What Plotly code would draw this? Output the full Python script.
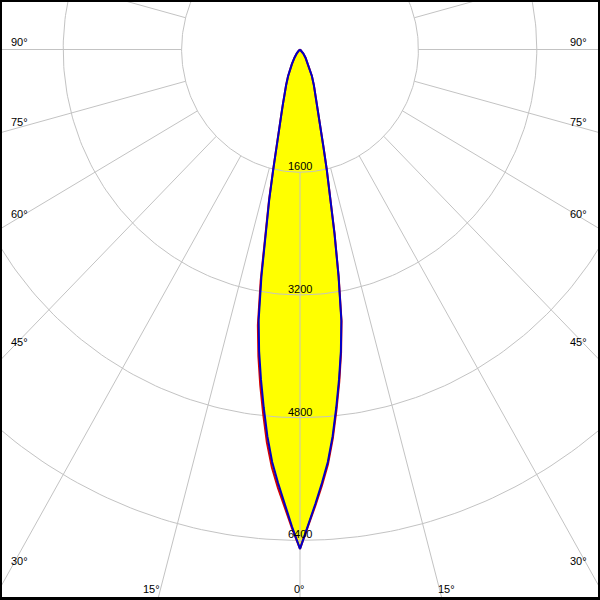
import numpy as np
import plotly.graph_objects as go

# ---- data ----
gamma_deg = [0, 1, 2, 3, 4, 5, 6, 7, 8, 9, 10, 11, 12, 13, 14, 15, 16, 17, 18,
             20, 22, 25, 30, 35, 40, 45, 50, 60, 70, 80, 90]
# C90-C270 plane (blue)
i_c90 = [6510, 6220, 5930, 5660, 5390, 5060, 4690, 4330, 3970, 3570, 3000, 2440,
         2000, 1610, 1310, 1110, 960, 840, 745, 620, 500, 380, 220, 130, 70, 35,
         15, 0, 0, 0, 0]
i_c270 = i_c90
# C0-C180 plane (red)
i_c0 = [6510, 6230, 5950, 5690, 5420, 5090, 4720, 4360, 3990, 3590, 3010, 2450,
        2000, 1610, 1310, 1110, 960, 840, 745, 620, 500, 380, 220, 130, 70, 35,
        15, 0, 0, 0, 0]
i_c180 = [6510, 6240, 5970, 5720, 5460, 5140, 4770, 4410, 4040, 3640, 3060, 2480,
          2020, 1620, 1320, 1110, 960, 840, 745, 620, 500, 380, 220, 130, 70, 35,
          15, 0, 0, 0, 0]

grid_values = [1600, 3200, 4800, 6400]
grid_labels = ["1600", "3200", "4800", "6400"]
spoke_angles = list(range(0, 360, 15))
side_labels = ["90°", "75°", "60°", "45°", "30°"]
bottom_labels = ["15°", "0°", "15°"]

# ---- layout constants (pixel geometry of the reference) ----
W, H = 600, 600
ML, MR, MT, MB = 2, 2, 2, 3
CX, CY = 300.0, 49.5     # pole position in pixels
KX, KY = 0.0740, 0.0767  # pixels per cd


def polar_xy(g_deg, vals, side):
    g = np.radians(np.asarray(g_deg, float))
    v = np.asarray(vals, float)
    return side * v * np.sin(g), -v * np.cos(g)


def curve(right_vals, left_vals):
    xr, yr = polar_xy(gamma_deg, right_vals, 1)
    xl, yl = polar_xy(gamma_deg, left_vals, -1)
    x = np.concatenate([xl[::-1], xr[1:]])
    y = np.concatenate([yl[::-1], yr[1:]])
    return x, y


fig = go.Figure()

# yellow fill
fx, fy = curve(i_c90, i_c180)
fig.add_trace(go.Scatter(x=fx, y=fy, mode="lines", fill="toself",
                         fillcolor="#ffff00", line=dict(width=0, color="#ffff00"),
                         hoverinfo="skip"))

grid_col = "#c3c3c3"
t = np.radians(np.arange(0, 361, 1))
for gv in grid_values:
    fig.add_trace(go.Scatter(x=gv * np.sin(t), y=-gv * np.cos(t), mode="lines",
                             line=dict(color=grid_col, width=1), hoverinfo="skip"))
for a in spoke_angles:
    ar = np.radians(a)
    fig.add_trace(go.Scatter(x=[grid_values[0] * np.sin(ar), 20000 * np.sin(ar)],
                             y=[-grid_values[0] * np.cos(ar), -20000 * np.cos(ar)],
                             mode="lines", line=dict(color=grid_col, width=1),
                             hoverinfo="skip"))

rx, ry = curve(i_c0, i_c180)
fig.add_trace(go.Scatter(x=rx, y=ry, mode="lines",
                         line=dict(color="#d40000", width=2), hoverinfo="skip"))
bx, by = curve(i_c90, i_c270)
fig.add_trace(go.Scatter(x=bx, y=by, mode="lines",
                         line=dict(color="#0000c8", width=2), hoverinfo="skip"))

font = dict(family="Liberation Sans, Arial, sans-serif", size=11, color="#000000")
ann = []
for gv, lab in zip(grid_values, grid_labels):
    ann.append(dict(x=0, y=-gv, xref="x", yref="y", text=lab, showarrow=False,
                    font=font, xanchor="center", yanchor="middle", yshift=6))


def px2paper(px, py):
    return (px - ML) / (W - ML - MR), (H - MB - py) / (H - MT - MB)


side_py = [42, 122, 214, 342, 561]
for lab, py in zip(side_labels, side_py):
    xl, yl = px2paper(9, py)
    ann.append(dict(x=xl, y=yl, xref="paper", yref="paper", text=lab,
                    showarrow=False, font=font, xanchor="left", yanchor="middle"))
    xr_, yr_ = px2paper(589, py)
    ann.append(dict(x=xr_, y=yr_, xref="paper", yref="paper", text=lab,
                    showarrow=False, font=font, xanchor="right", yanchor="middle"))
for lab, px in zip(bottom_labels, [151, 299.5, 447]):
    xb, yb = px2paper(px, 588.5)
    ann.append(dict(x=xb, y=yb, xref="paper", yref="paper", text=lab,
                    showarrow=False, font=font, xanchor="center", yanchor="middle"))

x0 = (ML - CX) / KX
x1 = (W - MR - CX) / KX
y1 = (CY - MT) / KY
y0 = (CY - (H - MB)) / KY

fig.update_layout(
    width=W, height=H,
    margin=dict(l=ML, r=MR, t=MT, b=MB, pad=0, autoexpand=False),
    paper_bgcolor="#000000", plot_bgcolor="#ffffff",
    showlegend=False,
    xaxis=dict(range=[x0, x1], visible=False, fixedrange=True),
    yaxis=dict(range=[y0, y1], visible=False, fixedrange=True),
    annotations=ann,
)

fig.write_html(
    "out.html",
    config={"displayModeBar": False, "staticPlot": True},
    post_script="document.body.style.margin='0px';document.body.style.overflow='hidden';",
)
